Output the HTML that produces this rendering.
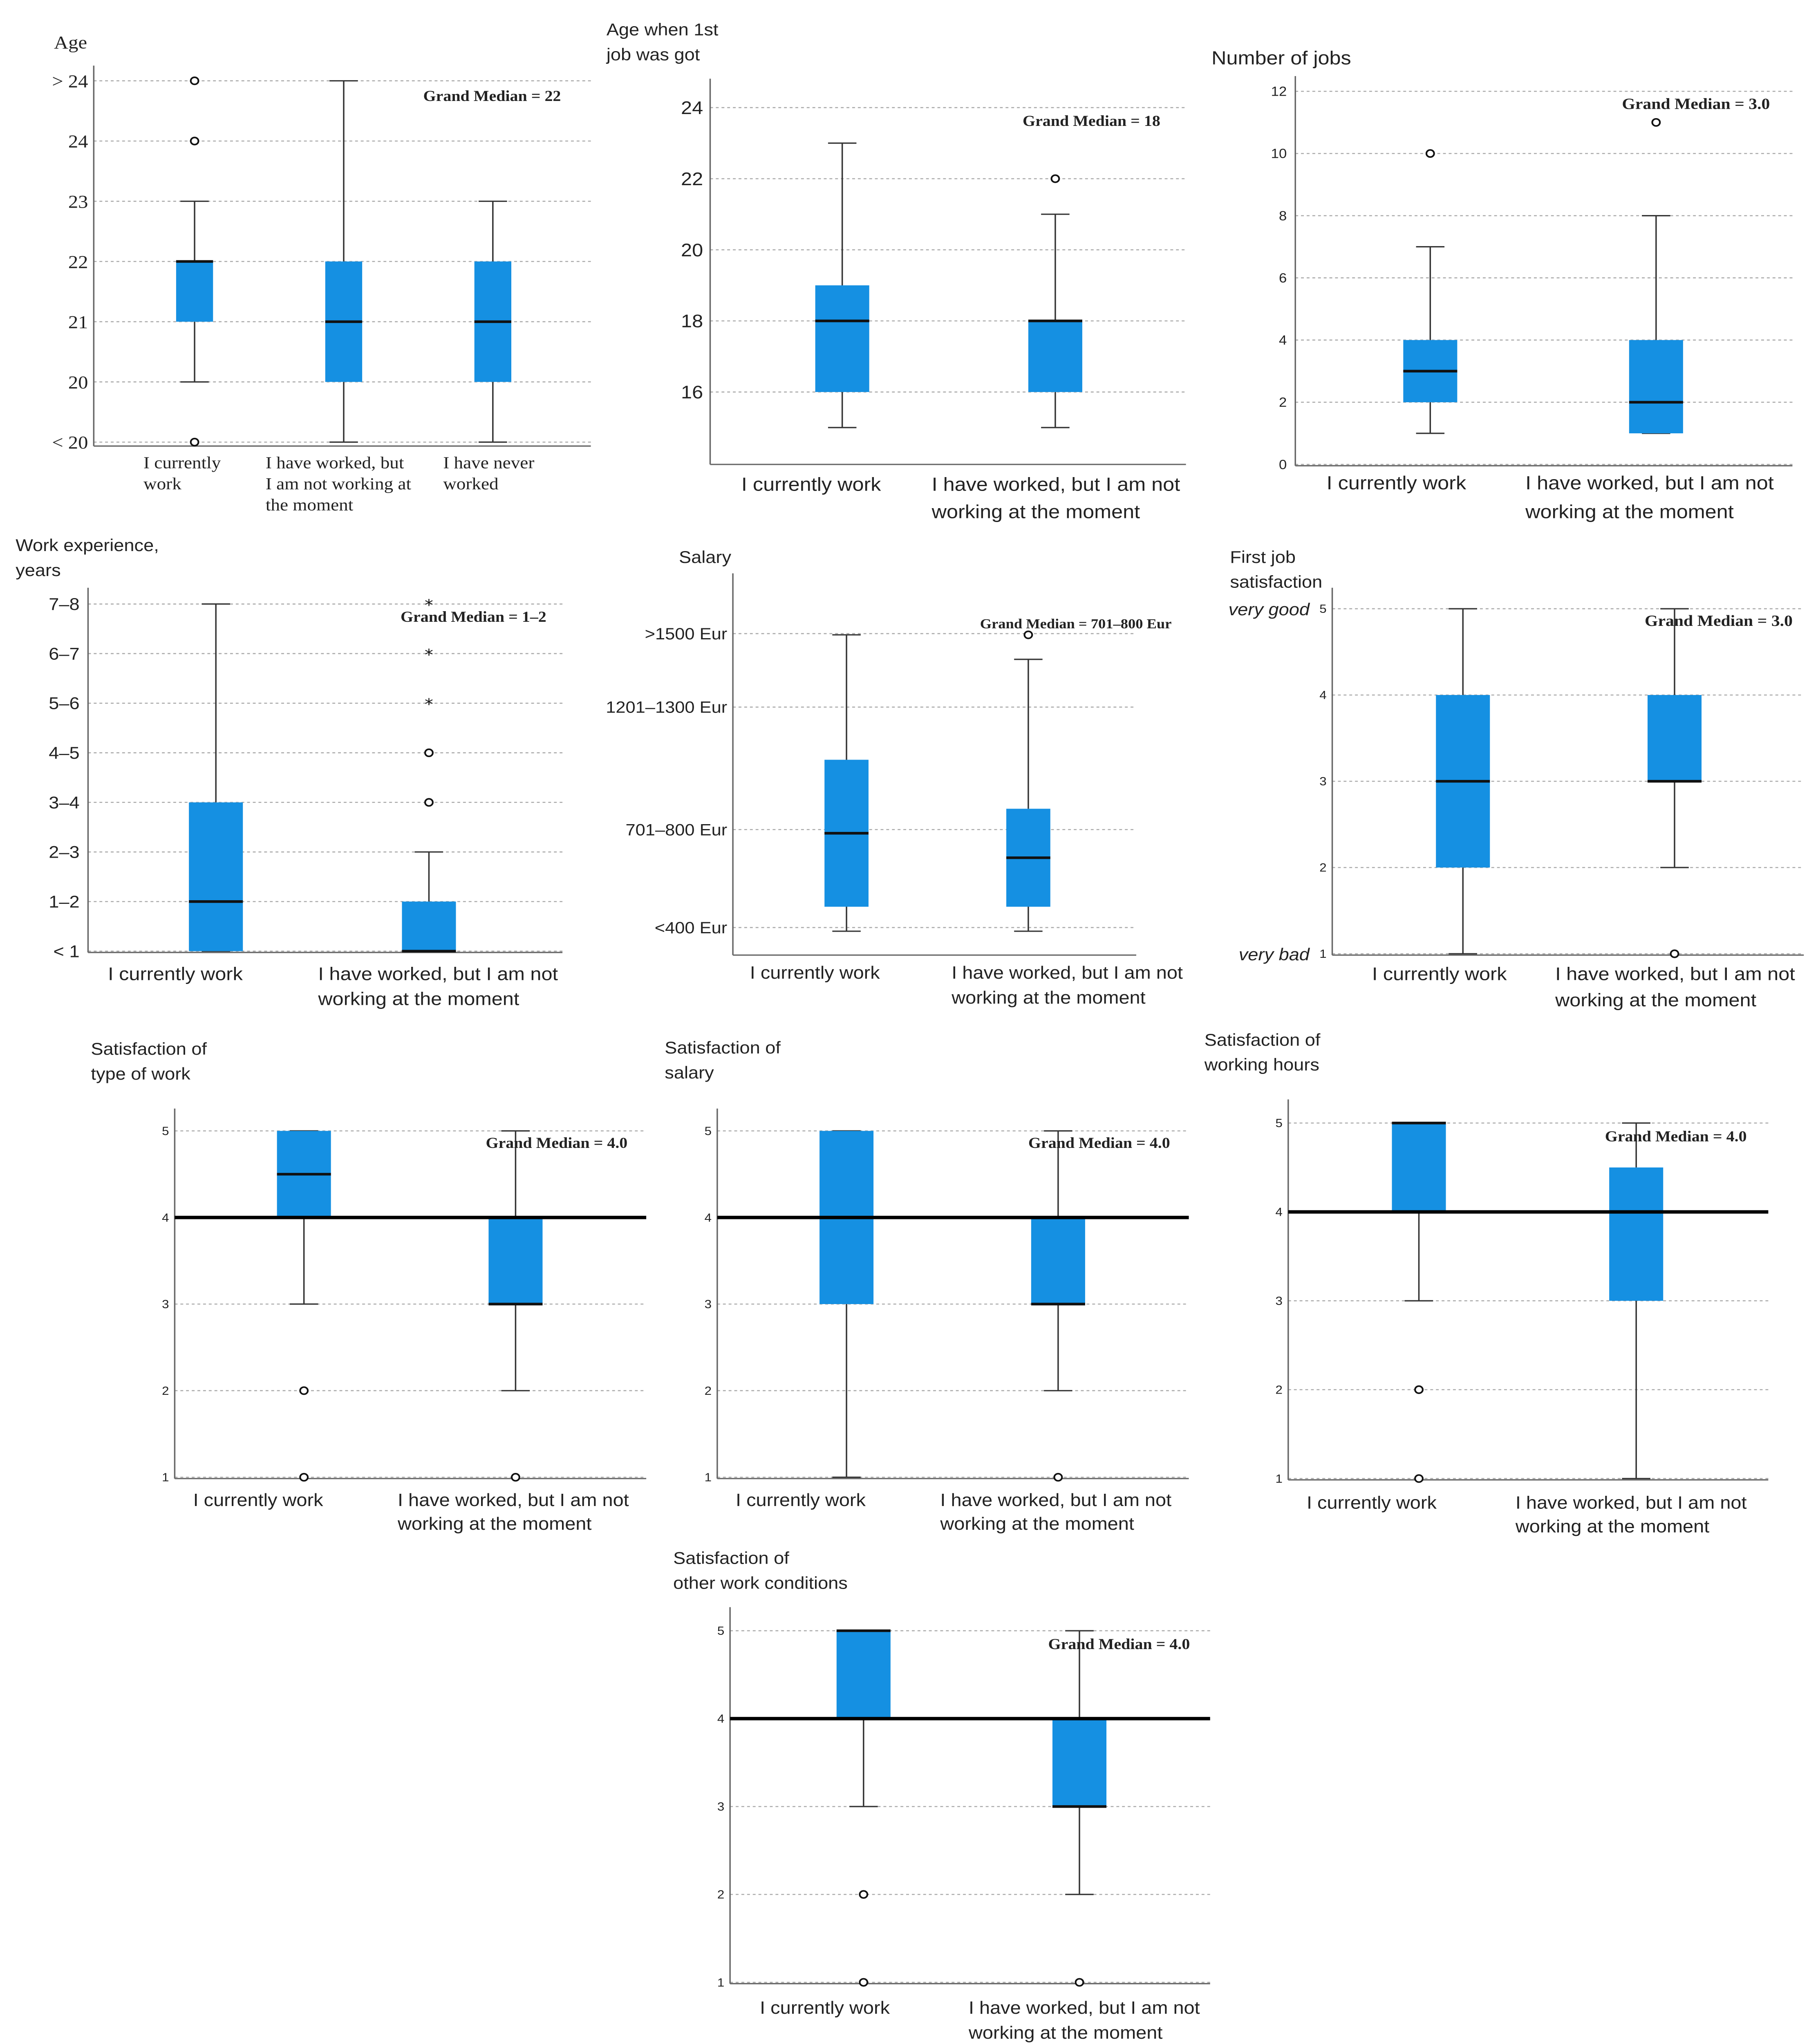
<!DOCTYPE html>
<html><head><meta charset="utf-8"><style>
html,body{margin:0;padding:0;background:#fff;width:100%;height:100%;overflow:hidden;}
svg{display:block;width:100vw;height:100vh;}
</style></head><body>
<svg id="root" xmlns="http://www.w3.org/2000/svg" viewBox="0 0 1280 1558" preserveAspectRatio="none"></svg>
<script>
// ---------- DATA ----------
const c1Cats=["I currently\nwork","I have worked, but\nI am not working at\nthe moment","I have never\nworked"];
const c1Lo=[20,19,19], c1Q1=[21,20,20], c1Med=[22,21,21], c1Q3=[22,22,22], c1Hi=[23,25,23];
const c1Out=[[24,25,19],[],[]];
const c1Ticks=[19,20,21,22,23,24,25];
const c1TickLabels=["< 20","20","21","22","23","24","> 24"];
const c2Cats=["I currently work","I have worked, but I am not\nworking at the moment"];
const c2Lo=[15,15], c2Q1=[16,16], c2Med=[18,18], c2Q3=[19,18], c2Hi=[23,21];
const c2Out=[[],[22]];
const c2Ticks=[16,18,20,22,24];
const c2TickLabels=["16","18","20","22","24"];
const c3Cats=["I currently work","I have worked, but I am not\nworking at the moment"];
const c3Lo=[1,1], c3Q1=[2,1], c3Med=[3,2], c3Q3=[4,4], c3Hi=[7,8];
const c3Out=[[10],[11]];
const c3Ticks=[0,2,4,6,8,10,12];
const c3TickLabels=["0","2","4","6","8","10","12"];
const c4Cats=["I currently work","I have worked, but I am not\nworking at the moment"];
const c4Lo=[0,0], c4Q1=[0,0], c4Med=[1,0], c4Q3=[3,1], c4Hi=[7,2];
const c4Out=[[],[3,4]];
const c4Stars=[[],[5,6,7]];
const c4Ticks=[0,1,2,3,4,5,6,7];
const c4TickLabels=["< 1","1\u20132","2\u20133","3\u20134","4\u20135","5\u20136","6\u20137","7\u20138"];
const c5Cats=["I currently work","I have worked, but I am not\nworking at the moment"];
const c5Lo=[-0.15,-0.15], c5Q1=[0.85,0.85], c5Med=[3.85,2.85], c5Q3=[6.85,4.85], c5Hi=[11.95,10.95];
const c5Out=[[],[11.95]];
const c5Ticks=[0,4,9,12];
const c5TickLabels=["<400 Eur","701\u2013800 Eur","1201\u20131300 Eur",">1500 Eur"];
const c6Cats=["I currently work","I have worked, but I am not\nworking at the moment"];
const c6Lo=[1,2], c6Q1=[2,3], c6Med=[3,3], c6Q3=[4,4], c6Hi=[5,5];
const c6Out=[[],[1]];
const lik=[1,2,3,4,5], likL=["1","2","3","4","5"];
const c7Lo=[3,2], c7Q1=[4,3], c7Med=[4.5,3], c7Q3=[5,4], c7Hi=[5,5];
const c7Out=[[2,1],[1]];
const c8Lo=[1,2], c8Q1=[3,3], c8Med=[4,3], c8Q3=[5,4], c8Hi=[5,5];
const c8Out=[[],[1]];
const c9Lo=[3,1], c9Q1=[4,3], c9Med=[5,4], c9Q3=[5,4.5], c9Hi=[5,5];
const c9Out=[[2,1],[]];
const c10Lo=[3,2], c10Q1=[4,3], c10Med=[5,3], c10Q3=[5,4], c10Hi=[5,5];
const c10Out=[[2,1],[1]];
const twoCats=["I currently work","I have worked, but I am not\nworking at the moment"];

// ---------- DRAW ----------
const NS="http://www.w3.org/2000/svg";
const root=document.getElementById('root');
function mk(tag,attrs,parent){const e=document.createElementNS(NS,tag);for(const k in attrs)e.setAttribute(k,attrs[k]);(parent||root).appendChild(e);return e;}
function txt(parent,x,y,s,size,opts){
  opts=opts||{};
  const lines=s.split("\n");
  lines.forEach((ln,i)=>{
    const t=mk('text',{x:x,y:y+i*(opts.lh||size*1.35),'font-size':size,'font-family':opts.serif?'"Liberation Serif",serif':'"Liberation Sans",sans-serif','text-anchor':opts.anchor||'start',fill:'#222','font-weight':opts.bold?'bold':'normal','font-style':opts.italic?'italic':'normal'},parent);
    t.textContent=ln;
  });
}
function chart(c){
  const g=mk('g',{});
  
  
  const y0=(c.y0!==undefined)?c.y0:c.yb;
  const y=v=>y0-(v-c.v0)*c.step;
  c.ticks.forEach((tv,i)=>{
    const gl=mk('line',{x1:c.xl,x2:c.xr,y1:y(tv),y2:y(tv),stroke:'#aaa','stroke-width':0.8,'stroke-dasharray':'2,2'},g);
    
    
    const tl=mk('g',{},g);
    
    
    txt(tl,c.xl-(c.tickPad||5),y(tv)+c.tickSize*0.35,c.tickLabels[i],c.tickSize,{anchor:'end',serif:c.serif});
  });
  const ya=mk('line',{x1:c.xl,x2:c.xl,y1:c.yt,y2:c.yb+1,stroke:'#666','stroke-width':1},g);
  
  
  const xa=mk('line',{x1:c.xl,x2:c.xr,y1:c.yb+1,y2:c.yb+1,stroke:'#666','stroke-width':1},g);
  
  
  const tg=mk('g',{},g);
  
  
  txt(tg,c.titleX,c.titleY,c.title,c.titleSize||13,{serif:c.serif,lh:19});
  c.cx.forEach((x,i)=>{
    const bg=mk('g',{},g);
    
    
    const w=c.bw/2, cw=c.capw||10;
    mk('line',{x1:x,x2:x,y1:y(c.hi[i]),y2:y(c.q3[i]),stroke:'#333','stroke-width':1},bg);
    mk('line',{x1:x,x2:x,y1:y(c.q1[i]),y2:y(c.lo[i]),stroke:'#333','stroke-width':1},bg);
    mk('line',{x1:x-cw,x2:x+cw,y1:y(c.hi[i]),y2:y(c.hi[i]),stroke:'#333','stroke-width':1},bg);
    mk('line',{x1:x-cw,x2:x+cw,y1:y(c.lo[i]),y2:y(c.lo[i]),stroke:'#333','stroke-width':1},bg);
    mk('rect',{x:x-w,y:y(c.q3[i]),width:c.bw,height:Math.max(0,y(c.q1[i])-y(c.q3[i])),fill:'#1590E2'},bg);
    mk('line',{x1:x-w,x2:x+w,y1:y(c.med[i]),y2:y(c.med[i]),stroke:'#111','stroke-width':2},bg);
    (c.out[i]||[]).forEach(v=>{
      const o=mk('circle',{cx:x,cy:y(v),r:2.7,fill:'#fff',stroke:'#111','stroke-width':1.2},bg);
      
      
    });
    ((c.stars||[])[i]||[]).forEach(v=>{
      const s=mk('text',{x:x,y:y(v)+5,'font-size':12,'text-anchor':'middle','font-family':'"DejaVu Sans",sans-serif',fill:'#111'},bg);
      s.textContent='*';
      
      
    });
    const cl=mk('g',{},g);
    
    
    const lx=c.catX?c.catX[i]:x;
    txt(cl,lx,c.catY,c.cats[i],c.catSize||13.5,{anchor:c.catAnchor||'middle',serif:c.serif,lh:c.catLh||19});
  });
  if(c.ref!==undefined){
    const r=mk('line',{x1:c.xl,x2:c.xr,y1:y(c.ref),y2:y(c.ref),stroke:'#000','stroke-width':2.6},g);
    
    
  }
  const gm=mk('g',{},g);
  
  
  txt(gm,c.gmX,c.gmY,c.gm,c.gmSize||11.5,{bold:true,serif:true});
  (c.extra||[]).forEach(e=>{
    const eg=mk('g',{},g);
    
    
    txt(eg,e.x,e.y,e.s,13,{italic:true,anchor:'end'});
  });
}
chart({name:'age-chart',xl:66,xr:416,yt:50,yb:339,y0:337,v0:19,step:45.9,ticks:c1Ticks,tickLabels:c1TickLabels,tickSize:14,tickPad:4,serif:true,
  title:'Age',titleX:38,titleY:37,titleSize:14,cx:[137,242,347],bw:26,lo:c1Lo,q1:c1Q1,med:c1Med,q3:c1Q3,hi:c1Hi,out:c1Out,
  cats:c1Cats,catX:[101,187,312],catAnchor:'start',catY:357,catSize:13,catLh:16,gm:'Grand Median = 22',gmX:298,gmY:77});
chart({name:'age-first-job-chart',xl:500,xr:835,yt:60,yb:353,y0:353,v0:14,step:27.1,ticks:c2Ticks,tickLabels:c2TickLabels,tickSize:14,tickPad:5,
  title:'Age when 1st\njob was got',titleX:427,titleY:27,cx:[593,743],bw:38,lo:c2Lo,q1:c2Q1,med:c2Med,q3:c2Q3,hi:c2Hi,out:c2Out,
  cats:c2Cats,catX:[522,656],catAnchor:'start',catY:374,catSize:14.5,catLh:21,gm:'Grand Median = 18',gmX:720,gmY:96});
chart({name:'number-of-jobs-chart',xl:912,xr:1262,yt:58,yb:354,y0:354,v0:0,step:23.7,ticks:c3Ticks,tickLabels:c3TickLabels,tickSize:10,tickPad:6,
  title:'Number of jobs',titleX:853,titleY:49,titleSize:14.5,cx:[1007,1166],bw:38,lo:c3Lo,q1:c3Q1,med:c3Med,q3:c3Q3,hi:c3Hi,out:c3Out,
  cats:c3Cats,catX:[934,1074],catAnchor:'start',catY:373,catSize:14.5,catLh:22,gm:'Grand Median = 3.0',gmX:1142,gmY:83,gmSize:12});
chart({name:'work-experience-chart',xl:62,xr:396,yt:448,yb:725,y0:725,v0:0,step:37.8,ticks:c4Ticks,tickLabels:c4TickLabels,tickSize:13,tickPad:6,
  title:'Work experience,\nyears',titleX:11,titleY:420,cx:[152,302],bw:38,lo:c4Lo,q1:c4Q1,med:c4Med,q3:c4Q3,hi:c4Hi,out:c4Out,stars:c4Stars,
  cats:c4Cats,catX:[76,224],catAnchor:'start',catY:747,catSize:14,catLh:19,gm:'Grand Median = 1\u20132',gmX:282,gmY:474});
chart({name:'salary-chart',xl:516,xr:800,yt:437,yb:727,y0:707,v0:0,step:18.67,ticks:c5Ticks,tickLabels:c5TickLabels,tickSize:12.5,tickPad:4,
  title:'Salary',titleX:478,titleY:429,cx:[596,724],bw:31,lo:c5Lo,q1:c5Q1,med:c5Med,q3:c5Q3,hi:c5Hi,out:c5Out,
  cats:c5Cats,catX:[528,670],catAnchor:'start',catY:746,catSize:13.5,catLh:19,gm:'Grand Median = 701\u2013800 Eur',gmX:690,gmY:479,gmSize:10.5});
chart({name:'first-job-satisfaction-chart',xl:938,xr:1270,yt:448,yb:727,y0:727,v0:1,step:65.75,ticks:lik,tickLabels:likL,tickSize:9,tickPad:4,
  title:'First job\nsatisfaction',titleX:866,titleY:429,cx:[1030,1179],bw:38,lo:c6Lo,q1:c6Q1,med:c6Med,q3:c6Q3,hi:c6Hi,out:c6Out,
  cats:c6Cats,catX:[966,1095],catAnchor:'start',catY:747,catSize:14,catLh:20,gm:'Grand Median = 3.0',gmX:1158,gmY:477,gmSize:12,
  extra:[{name:'very-good-label',x:922,y:469,s:'very good'},{name:'very-bad-label',x:922,y:732,s:'very bad'}]});
chart({name:'type-of-work-satisfaction-chart',xl:123,xr:455,yt:845,yb:1126,y0:1126,v0:1,step:66,ticks:lik,tickLabels:likL,tickSize:9,tickPad:4,
  title:'Satisfaction of\ntype of work',titleX:64,titleY:804,cx:[214,363],bw:38,lo:c7Lo,q1:c7Q1,med:c7Med,q3:c7Q3,hi:c7Hi,out:c7Out,ref:4,
  cats:twoCats,catX:[136,280],catAnchor:'start',catY:1148,catSize:13.5,catLh:18,gm:'Grand Median = 4.0',gmX:342,gmY:875});
chart({name:'salary-satisfaction-chart',xl:505,xr:837,yt:845,yb:1126,y0:1126,v0:1,step:66,ticks:lik,tickLabels:likL,tickSize:9,tickPad:4,
  title:'Satisfaction of\nsalary',titleX:468,titleY:803,cx:[596,745],bw:38,lo:c8Lo,q1:c8Q1,med:c8Med,q3:c8Q3,hi:c8Hi,out:c8Out,ref:4,
  cats:twoCats,catX:[518,662],catAnchor:'start',catY:1148,catSize:13.5,catLh:18,gm:'Grand Median = 4.0',gmX:724,gmY:875});
chart({name:'working-hours-satisfaction-chart',xl:907,xr:1245,yt:838,yb:1127,y0:1127,v0:1,step:67.75,ticks:lik,tickLabels:likL,tickSize:9,tickPad:4,
  title:'Satisfaction of\nworking hours',titleX:848,titleY:797,cx:[999,1152],bw:38,lo:c9Lo,q1:c9Q1,med:c9Med,q3:c9Q3,hi:c9Hi,out:c9Out,ref:4,
  cats:twoCats,catX:[920,1067],catAnchor:'start',catY:1150,catSize:13.5,catLh:18,gm:'Grand Median = 4.0',gmX:1130,gmY:870});
chart({name:'other-conditions-satisfaction-chart',xl:514,xr:852,yt:1225,yb:1511,y0:1511,v0:1,step:67,ticks:lik,tickLabels:likL,tickSize:9,tickPad:4,
  title:'Satisfaction of\nother work conditions',titleX:474,titleY:1192,cx:[608,760],bw:38,lo:c10Lo,q1:c10Q1,med:c10Med,q3:c10Q3,hi:c10Hi,out:c10Out,ref:4,
  cats:twoCats,catX:[535,682],catAnchor:'start',catY:1535,catSize:13.5,catLh:19,gm:'Grand Median = 4.0',gmX:738,gmY:1257});
</script>
</body></html>
